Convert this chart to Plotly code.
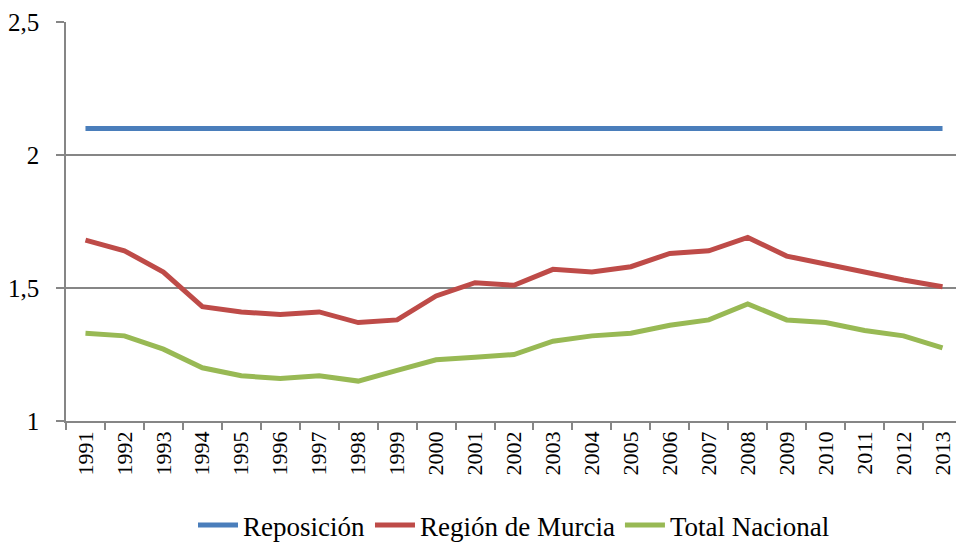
import plotly.graph_objects as go

years = [str(y) for y in range(1991, 2014)]
reposicion = [2.1] * 23
murcia = [1.68, 1.64, 1.56, 1.43, 1.41, 1.40, 1.41, 1.37, 1.38, 1.47, 1.52, 1.51,
          1.57, 1.56, 1.58, 1.63, 1.64, 1.69, 1.62, 1.59, 1.56, 1.53, 1.505]
nacional = [1.33, 1.32, 1.27, 1.20, 1.17, 1.16, 1.17, 1.15, 1.19, 1.23, 1.24, 1.25,
            1.30, 1.32, 1.33, 1.36, 1.38, 1.44, 1.38, 1.37, 1.34, 1.32, 1.275]

names = ["Reposición", "Región de Murcia", "Total Nacional"]
colors = ["#4A7EBB", "#BE4B48", "#98B954"]
series = [reposicion, murcia, nacional]

fig = go.Figure()
for n, c, s in zip(names, colors, series):
    fig.add_trace(go.Scatter(x=years, y=s, name=n, mode="lines",
                             line=dict(color=c, width=5)))

serif = "'Liberation Serif', 'Times New Roman', Times, 'DejaVu Serif', serif"

fig.update_layout(
    width=956, height=537,
    paper_bgcolor="white", plot_bgcolor="white",
    margin=dict(l=58, r=2, t=14, b=124, autoexpand=False),
    separators=",.",
    font=dict(family=serif, color="black"),
    showlegend=True,
    legend=dict(orientation="h", x=0.5, xanchor="center", y=-0.262, yanchor="middle",
                font=dict(family=serif, size=27), itemwidth=40, tracegroupgap=0),
)
fig.update_xaxes(type="category", tickson="boundaries", ticks="outside", ticklen=7,
                 tickcolor="#868686", tickwidth=1.5,
                 showline=True, linecolor="#868686", linewidth=1.5,
                 tickangle=-90, tickfont=dict(family=serif, size=22), showgrid=False,
                 range=[-0.5, 22.5])
fig.update_yaxes(range=[1, 2.5], dtick=0.5, tick0=1, ticks="outside", ticklen=8,
                 tickcolor="#868686", tickwidth=1.5,
                 showline=True, linecolor="#868686", linewidth=1.5,
                 showgrid=True, gridcolor="#868686", gridwidth=1.5,
                 tickfont=dict(family=serif, size=25), ticklabelstandoff=12, zeroline=False)

fig.write_html("out.html")
